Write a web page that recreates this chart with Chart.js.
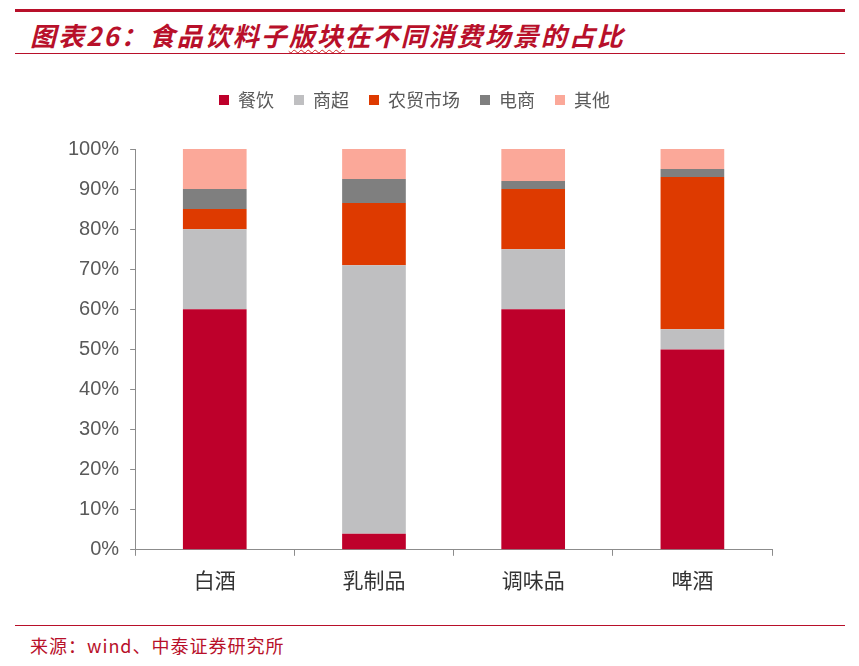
<!DOCTYPE html>
<html>
<head>
<meta charset="utf-8">
<script src="https://cdn.jsdelivr.net/npm/chart.js@4"></script>
<style>
    body { margin: 0; background: #fff; width: 859px; height: 666px; overflow: hidden; position: relative; font-family: "Noto Sans CJK SC", sans-serif; }
    .top-line { position: absolute; left: 15px; top: 9px; width: 830px; height: 3px; background: #B8102A; }
    .title { position: absolute; left: 30px; top: 17px; font-size: 26px; line-height: 36px; letter-spacing: 2px; font-style: italic; font-weight: bold; color: #B8102A; white-space: nowrap; }
    .title .wavy { text-decoration: underline wavy #D02020; text-decoration-thickness: 1px; text-underline-offset: 3px; }
    .title-line { position: absolute; left: 15px; top: 53px; width: 830px; height: 1px; background: #B8102A; }
    .foot-line { position: absolute; left: 15px; top: 625px; width: 830px; height: 1px; background: #B8102A; }
    .source { position: absolute; left: 30px; top: 633px; font-size: 18px; line-height: 24px; letter-spacing: 1px; color: #B8102A; white-space: nowrap; }
    #wrap { position: absolute; left: 0; top: 70px; width: 859px; height: 540px; }
</style>
</head>
<body>
<div class="top-line"></div>
<div class="title">图表26：食品饮料子<span class="wavy">版块</span>在不同消费场景的占比</div>
<div class="title-line"></div>
<div id="wrap"><canvas id="chart"></canvas></div>
<div class="foot-line"></div>
<div class="source">来源：wind、中泰证券研究所</div>
<script>
    // categories and series (percent of total)
    const categories = ['白酒', '乳制品', '调味品', '啤酒'];
    const seriesNames = ['餐饮', '商超', '农贸市场', '电商', '其他'];
    const catering = [60, 4, 60, 50];
    const supermarket = [20, 67, 15, 5];
    const farmMarket = [5, 15.5, 15, 38];
    const ecommerce = [5, 6, 2, 2];
    const other = [10, 7.5, 8, 5];
    const yTicks = [0, 10, 20, 30, 40, 50, 60, 70, 80, 90, 100];

    const colors = ['#BE002B', '#BFBFC1', '#DE3A00', '#7F7F7F', '#FBA899'];
    const values = [catering, supermarket, farmMarket, ecommerce, other];

    // extra space between legend and plot area
    const legendGap = {
        id: 'legendGap',
        beforeInit(chart) {
            const fit = chart.legend.fit;
            chart.legend.fit = function() {
                fit.bind(chart.legend)();
                this.height += 30;
            };
        }
    };

    function initChart() {
        const ctx = document.getElementById('chart').getContext('2d');
        new Chart(ctx, {
            type: 'bar',
            data: {
                labels: categories,
                datasets: seriesNames.map((name, i) => ({
                    label: name,
                    data: values[i],
                    backgroundColor: colors[i],
                    borderWidth: 0,
                    barPercentage: 0.4,
                    categoryPercentage: 1
                }))
            },
            plugins: [legendGap],
            options: {
                responsive: true,
                maintainAspectRatio: false,
                animation: false,
                layout: {
                    padding: { left: 57, right: 87, top: 1, bottom: 5 }
                },
                plugins: {
                    tooltip: { enabled: false },
                    legend: {
                        position: 'top',
                        labels: {
                            boxWidth: 10,
                            boxHeight: 10,
                            padding: 20,
                            color: '#595959',
                            font: { size: 18, family: '"Noto Sans CJK SC"' }
                        }
                    }
                },
                scales: {
                    x: {
                        stacked: true,
                        border: { color: '#8C8C8C' },
                        grid: {
                            display: true,
                            drawOnChartArea: false,
                            drawTicks: true,
                            tickLength: 6,
                            color: '#8C8C8C'
                        },
                        ticks: {
                            color: '#333333',
                            font: { size: 21, family: '"Noto Sans CJK SC"' },
                            padding: 12
                        }
                    },
                    y: {
                        stacked: true,
                        min: 0,
                        max: 100,
                        afterBuildTicks: axis => {
                            axis.ticks = yTicks.map(v => ({ value: v }));
                        },
                        border: { color: '#8C8C8C' },
                        grid: {
                            display: true,
                            drawOnChartArea: false,
                            drawTicks: true,
                            tickLength: 5,
                            color: '#8C8C8C'
                        },
                        ticks: {
                            color: '#595959',
                            font: { size: 20, family: 'Liberation Sans' },
                            padding: 11,
                            callback: v => v + '%'
                        }
                    }
                }
            }
        });
    }

    window.onload = function() {
        initChart();
    }
</script>
</body>
</html>
